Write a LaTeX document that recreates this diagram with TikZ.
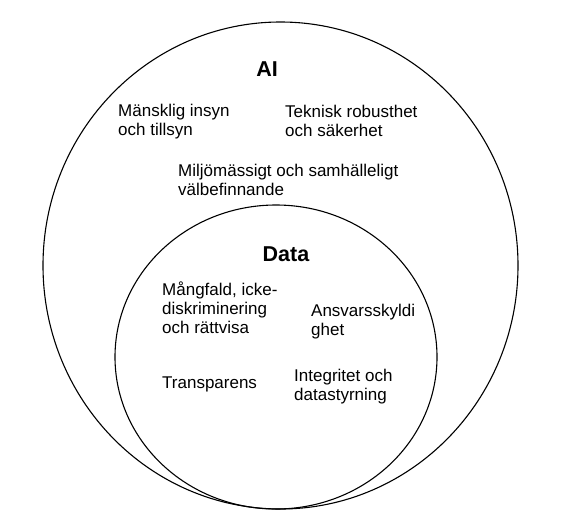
\documentclass[tikz,border=0pt]{standalone}
\usepackage{fontspec}
\setmainfont{Liberation Sans}
\begin{document}
\begin{tikzpicture}[x=1pt,y=-1pt,
  ring/.style={draw=black,line width=1.1pt},
  lbl/.style={anchor=base west,inner sep=0pt,font=\fontsize{17}{19}\selectfont},
  ttl/.style={anchor=base,inner sep=0pt,font=\fontsize{21.5}{24}\selectfont\bfseries}]
\useasboundingbox[fill=white] (0,0) rectangle (578,531);
\draw[ring] (280.5,265.5) ellipse [x radius=237.5pt, y radius=243.5pt];
\draw[ring] (276,357) ellipse [x radius=161pt, y radius=152pt];
\node[ttl] (ai) at (267,76) {AI};
\node[ttl] (data) at (286,261) {Data};
\node[lbl] (insyn) at (118,116) {\begin{tabular}[t]{@{}l@{}}Mänsklig insyn\\och tillsyn\end{tabular}};
\node[lbl] (robust) at (285,117) {\begin{tabular}[t]{@{}l@{}}Teknisk robusthet\\och säkerhet\end{tabular}};
\node[lbl] (miljo) at (178,176) {\begin{tabular}[t]{@{}l@{}}Miljömässigt och samhälleligt\\välbefinnande\end{tabular}};
\node[lbl] (mangfald) at (162,295) {\begin{tabular}[t]{@{}l@{}}Mångfald, icke-\\diskriminering\\och rättvisa\end{tabular}};
\node[lbl] (transp) at (162,388) {Transparens};
\node[lbl] (ansvar) at (311,316) {\begin{tabular}[t]{@{}l@{}}Ansvarsskyldi\\ghet\end{tabular}};
\node[lbl] (integ) at (294,381) {\begin{tabular}[t]{@{}l@{}}Integritet och\\datastyrning\end{tabular}};
\end{tikzpicture}
\end{document}
